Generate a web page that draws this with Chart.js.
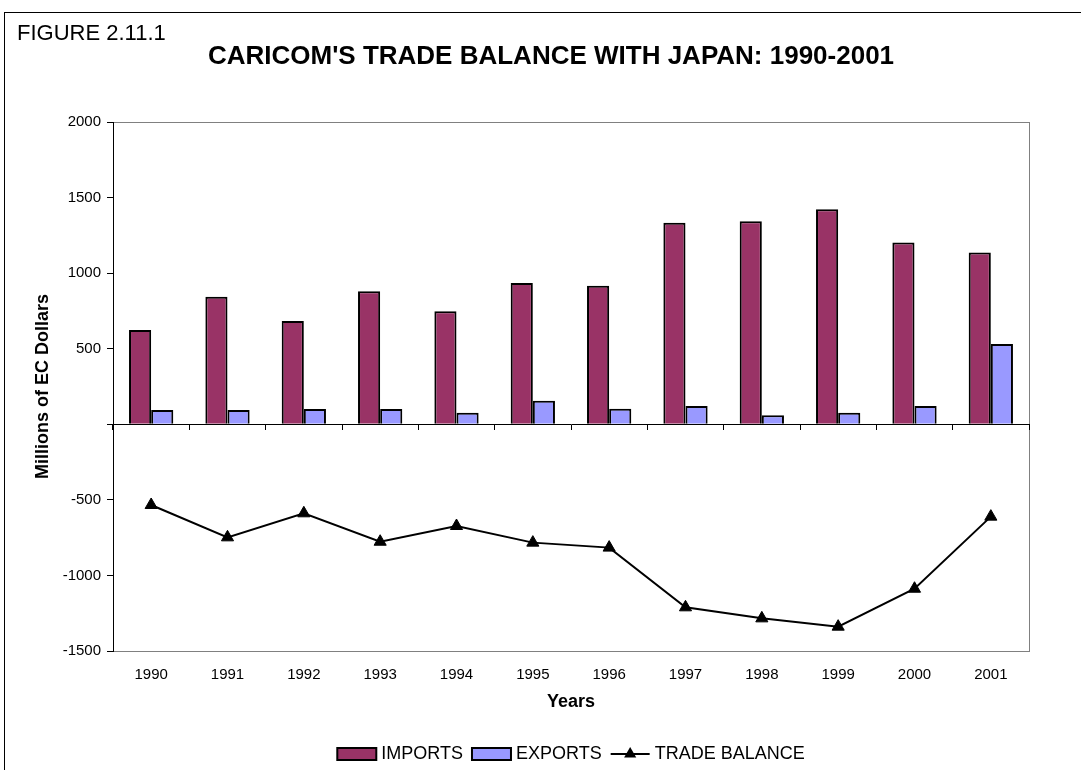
<!DOCTYPE html>
<html>
<head>
<meta charset="utf-8">
<script src="https://cdn.jsdelivr.net/npm/chart.js@4.4.1/dist/chart.umd.min.js"></script>
<style>
  html, body { margin: 0; padding: 0; background: #fff; overflow: hidden; }
</style>
</head>
<body>
<canvas id="tradeChart" width="1081" height="770"></canvas>
<script>
// Data (millions of EC dollars)
const years = ['1990', '1991', '1992', '1993', '1994', '1995', '1996', '1997', '1998', '1999', '2000', '2001'];
const imports = [624, 844, 683, 881, 748, 935, 917, 1334, 1343, 1423, 1202, 1136];
const exports = [95, 95, 101, 101, 77, 156, 103, 121, 60, 77, 121, 531];
const tradeBalance = [-534, -748, -589, -777, -673, -783, -816, -1211, -1284, -1339, -1088, -611];
const yTicks = { min: -1500, max: 2000, step: 500 };

const FONT = '"Liberation Sans", Arial, sans-serif';
Chart.defaults.font.family = FONT;
Chart.defaults.color = '#000';

// Frame, titles and the plot-area box
const frame = {
    id: 'frame',
    beforeDraw(chart) {
        const ctx = chart.ctx;
        const a = chart.chartArea;
        ctx.save();
        ctx.fillStyle = '#fff';
        ctx.fillRect(0, 0, chart.width, chart.height);
        ctx.strokeStyle = '#000';
        ctx.lineWidth = 1;
        ctx.strokeRect(4.5, 12.5, chart.width + 20, chart.height + 20);
        ctx.strokeStyle = '#808080';
        ctx.strokeRect(a.left + 0.5, a.top + 0.5, a.right - a.left, a.bottom - a.top);

        ctx.fillStyle = '#000';
        ctx.textBaseline = 'middle';
        ctx.textAlign = 'left';
        ctx.font = '22px ' + FONT;
        ctx.fillText('FIGURE 2.11.1', 17, 34);
        ctx.textAlign = 'center';
        ctx.font = 'bold 26px ' + FONT;
        ctx.fillText("CARICOM'S TRADE BALANCE WITH JAPAN: 1990-2001", 551, 57);
        ctx.restore();
    },
    // legend drawn from the datasets
    afterDraw(chart) {
        const ctx = chart.ctx;
        const a = chart.chartArea;
        const ds = chart.data.datasets;
        const boxW = 39, boxH = 12, textGap = 5, itemGap = 9;
        const y = 754;
        ctx.save();
        ctx.font = '18px ' + FONT;
        let total = 0;
        ds.forEach((d, i) => {
            total += boxW + textGap + ctx.measureText(d.label).width;
            if (i > 0) total += itemGap;
        });
        let x = (a.left + a.right) / 2 - total / 2;
        ds.forEach(d => {
            if (d.type === 'line') {
                ctx.strokeStyle = d.borderColor;
                ctx.lineWidth = d.borderWidth;
                ctx.beginPath();
                ctx.moveTo(x, y);
                ctx.lineTo(x + boxW, y);
                ctx.stroke();
                const cx = x + boxW / 2, r = d.pointRadius;
                ctx.fillStyle = d.pointBackgroundColor;
                ctx.beginPath();
                ctx.moveTo(cx, y - r);
                ctx.lineTo(cx + r * 0.866, y + r * 0.5);
                ctx.lineTo(cx - r * 0.866, y + r * 0.5);
                ctx.closePath();
                ctx.fill();
            } else {
                ctx.fillStyle = d.backgroundColor;
                ctx.fillRect(x, y - boxH / 2, boxW, boxH);
                ctx.strokeStyle = d.borderColor;
                ctx.lineWidth = 2;
                ctx.strokeRect(x, y - boxH / 2, boxW, boxH);
            }
            x += boxW + textGap;
            ctx.fillStyle = '#000';
            ctx.textAlign = 'left';
            ctx.textBaseline = 'middle';
            ctx.fillText(d.label, x, y);
            x += ctx.measureText(d.label).width + itemGap;
        });
        ctx.restore();
    }
};

const ctx = document.getElementById('tradeChart').getContext('2d');
const tradeChart = new Chart(ctx, {
    type: 'bar',
    data: {
        labels: years,
        datasets: [{
            label: 'IMPORTS',
            data: imports,
            backgroundColor: '#993366',
            borderColor: '#000',
            borderWidth: 2,
            order: 2
        }, {
            label: 'EXPORTS',
            data: exports,
            backgroundColor: '#9999ff',
            borderColor: '#000',
            borderWidth: 2,
            order: 2
        }, {
            type: 'line',
            label: 'TRADE BALANCE',
            data: tradeBalance,
            borderColor: '#000',
            borderWidth: 2,
            pointStyle: 'triangle',
            pointRadius: 7,
            pointBackgroundColor: '#000',
            pointBorderColor: '#000',
            pointBorderWidth: 1,
            tension: 0,
            fill: false,
            order: 1
        }]
    },
    options: {
        responsive: false,
        animation: false,
        categoryPercentage: 0.58,
        barPercentage: 1,
        layout: { padding: { top: 122, right: 52, bottom: 57, left: 0 } },
        plugins: {
            legend: { display: false },
            tooltip: { enabled: false },
            title: { display: false }
        },
        scales: {
            x: {
                grid: { display: false },
                border: { color: '#808080' },
                ticks: { font: { size: 15 }, padding: 7, maxRotation: 0 },
                title: {
                    display: true,
                    text: 'Years',
                    font: { size: 18, weight: 'bold' },
                    padding: { top: 0, bottom: 0 }
                },
                afterFit(scale) { scale.height = 62; }
            },
            // axis line at zero with the category tick marks
            x2: {
                type: 'category',
                labels: years,
                position: { y: 0 },
                offset: true,
                grid: { offset: true, drawOnChartArea: false, tickLength: 5, color: '#000' },
                border: { color: '#000', width: 1 },
                ticks: { display: false }
            },
            y: {
                min: yTicks.min,
                max: yTicks.max,
                grid: { drawOnChartArea: false, tickLength: 6, color: '#000' },
                border: { color: '#000', width: 1 },
                ticks: {
                    stepSize: yTicks.step,
                    font: { size: 15 },
                    padding: 6,
                    callback: v => (v === 0 ? '' : v)
                },
                title: {
                    display: true,
                    text: 'Millions of EC Dollars',
                    font: { size: 18, weight: 'bold' },
                    padding: { top: 32, bottom: 0 }
                },
                afterFit(scale) { scale.width = 113; }
            }
        }
    },
    plugins: [frame]
});
</script>
</body>
</html>
